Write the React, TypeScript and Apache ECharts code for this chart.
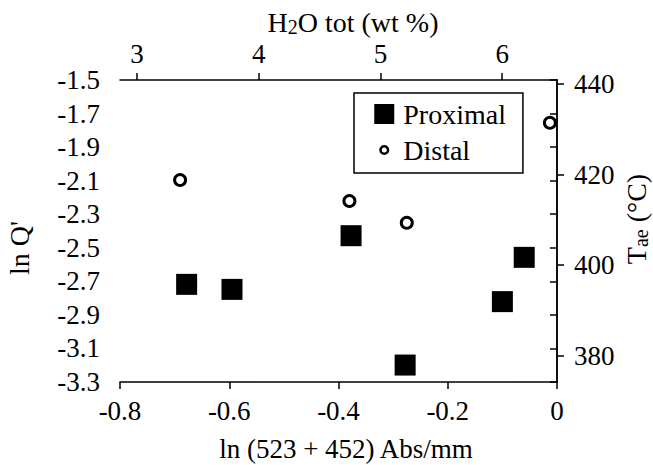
import React, { useEffect, useRef } from "react";
import * as echarts from "echarts";

// ---- data ----
const proximalX = [-0.678, -0.595, -0.377, -0.278, -0.1, -0.06];
const proximalY = [-2.718, -2.748, -2.428, -3.199, -2.821, -2.557];
const distalX = [-0.69, -0.38, -0.275, -0.013];
const distalY = [-2.096, -2.221, -2.351, -1.755];

const bottomTicks = [-0.8, -0.6, -0.4, -0.2, 0];
const leftTicks = [-3.3, -3.1, -2.9, -2.7, -2.5, -2.3, -2.1, -1.9, -1.7, -1.5];
const topTicks = [3, 4, 5, 6];
const rightTicks = [380, 400, 420, 440];

const seriesNames = ["Proximal", "Distal"];
const FONT = "Liberation Serif";

export default function App() {
  const ref = useRef<HTMLDivElement>(null);

  useEffect(() => {
    if (!ref.current) return;
    const chart = echarts.init(ref.current, undefined, { renderer: "svg" });

    const axisLine = { show: true, lineStyle: { color: "#000", width: 1.5 } };
    const axisTick = (vals: number[]) => ({
      show: true,
      inside: false,
      length: 7,
      lineStyle: { color: "#000", width: 1.5 },
      customValues: vals,
    });
    const labelBase = {
      color: "#000",
      fontFamily: FONT,
      fontSize: 27,
      fontWeight: "normal",
    };

    const proximal = proximalX.map((x, i) => [x, proximalY[i]]);
    const distal = distalX.map((x, i) => [x, distalY[i]]);

    chart.setOption({
      animation: false,
      backgroundColor: "#fff",
      textStyle: { fontFamily: FONT, color: "#000" },
      grid: {
        left: 120,
        right: 96,
        top: 80,
        bottom: 83,
        containLabel: false,
        outerBoundsMode: "none",
      },
      xAxis: [
        {
          type: "value",
          position: "bottom",
          min: -0.8,
          max: 0,
          splitLine: { show: false },
          axisLine,
          axisTick: axisTick(bottomTicks),
          axisLabel: {
            ...labelBase,
            margin: 15,
            customValues: bottomTicks,
            formatter: (v: number) => (v === 0 ? "0" : v.toFixed(1)),
          },
        },
        {
          type: "value",
          position: "top",
          min: 2.86,
          max: 6.45,
          splitLine: { show: false },
          axisLine,
          axisTick: axisTick(topTicks),
          axisLabel: {
            ...labelBase,
            margin: 13,
            customValues: topTicks,
            formatter: (v: number) => String(v),
          },
        },
      ],
      yAxis: [
        {
          type: "value",
          position: "left",
          min: -3.3,
          max: -1.5,
          splitLine: { show: false },
          axisLine,
          axisTick: axisTick(leftTicks),
          axisLabel: {
            ...labelBase,
            margin: 20,
            customValues: leftTicks,
            formatter: (v: number) => v.toFixed(1),
          },
        },
        {
          type: "value",
          position: "right",
          min: 374.2,
          max: 440.9,
          splitLine: { show: false },
          axisLine,
          axisTick: axisTick(rightTicks),
          axisLabel: {
            ...labelBase,
            margin: 17,
            customValues: rightTicks,
            formatter: (v: number) => String(v),
          },
        },
      ],
      legend: {
        show: true,
        orient: "vertical",
        left: 354,
        top: 93,
        padding: [7, 17, 9, 19],
        itemGap: 8,
        itemWidth: 24,
        itemHeight: 20,
        borderColor: "#000",
        borderWidth: 1.5,
        backgroundColor: "#fff",
        selectedMode: false,
        textStyle: { color: "#000", fontFamily: FONT, fontSize: 28, lineHeight: 26 },
        data: [
          {
            name: seriesNames[0],
            icon: "path://M0 0M24 20M0 0L20 0L20 20L0 20Z",
            itemStyle: { color: "#000", opacity: 1 },
          },
          {
            name: seriesNames[1],
            icon: "path://M0 0M24 20M6.25 10A3.75 3.75 0 1 1 13.75 10A3.75 3.75 0 1 1 6.25 10Z",
            itemStyle: { color: "#fff", borderColor: "#000", borderWidth: 2.5, opacity: 1 },
          },
        ],
      },
      series: [
        {
          name: seriesNames[0],
          type: "scatter",
          xAxisIndex: 0,
          yAxisIndex: 0,
          symbol: "rect",
          symbolSize: 21,
          itemStyle: { color: "#000", opacity: 1 },
          data: proximal,
        },
        {
          name: seriesNames[1],
          type: "scatter",
          xAxisIndex: 0,
          yAxisIndex: 0,
          symbol: "circle",
          symbolSize: 11,
          itemStyle: { color: "#fff", borderColor: "#000", borderWidth: 3, opacity: 1 },
          data: distal,
        },
      ],
      graphic: [
        {
          type: "text",
          x: 353,
          y: 22,
          style: {
            text: "H{s|2}O tot (wt %)",
            fill: "#000",
            fontFamily: FONT,
            fontSize: 28,
            lineHeight: 30,
            align: "center",
            verticalAlign: "middle",
            textAlign: "center",
            textVerticalAlign: "middle",
            rich: {
              s: { fontFamily: FONT, fontSize: 20, lineHeight: 18, verticalAlign: "bottom", fill: "#000" },
            },
          },
        },
        {
          type: "text",
          x: 346,
          y: 449,
          style: {
            text: "ln (523 + 452) Abs/mm",
            fill: "#000",
            fontFamily: FONT,
            fontSize: 27,
            align: "center",
            verticalAlign: "middle",
            textAlign: "center",
            textVerticalAlign: "middle",
          },
        },
        {
          type: "text",
          x: 19,
          y: 248,
          rotation: Math.PI / 2,
          style: {
            text: "ln Q'",
            fill: "#000",
            fontFamily: FONT,
            fontSize: 28,
            align: "center",
            verticalAlign: "middle",
            textAlign: "center",
            textVerticalAlign: "middle",
          },
        },
        {
          type: "text",
          x: 636,
          y: 219,
          rotation: Math.PI / 2,
          style: {
            text: "T{s|ae} (°C)",
            fill: "#000",
            fontFamily: FONT,
            fontSize: 28,
            lineHeight: 30,
            align: "center",
            verticalAlign: "middle",
            textAlign: "center",
            textVerticalAlign: "middle",
            rich: {
              s: { fontFamily: FONT, fontSize: 20, lineHeight: 18, verticalAlign: "bottom", fill: "#000" },
            },
          },
        },
      ],
    });

    return () => chart.dispose();
  }, []);

  return (
    <div
      ref={ref}
      style={{ position: "fixed", left: 0, top: 0, width: 653, height: 465, background: "#fff" }}
    />
  );
}
